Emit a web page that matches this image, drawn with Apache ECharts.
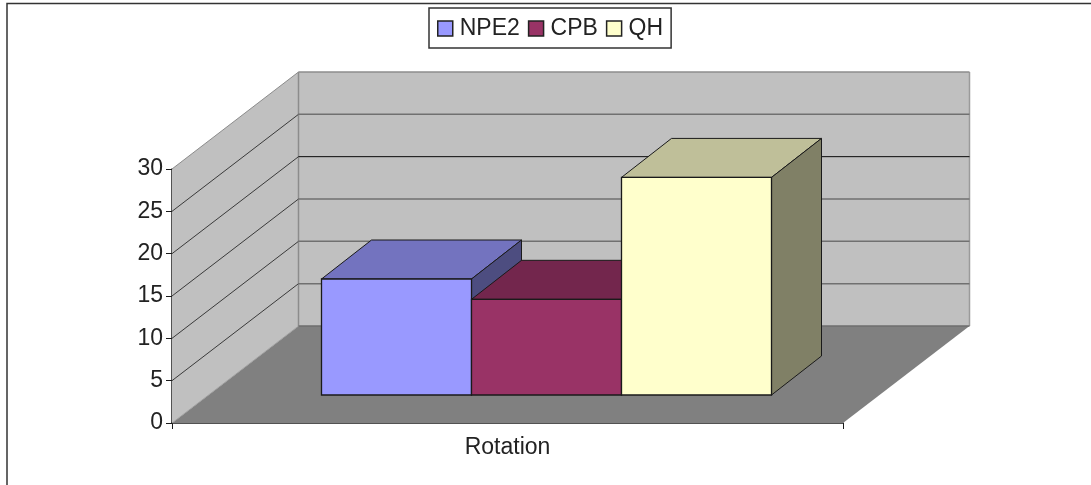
<!DOCTYPE html>
<html>
<head>
<meta charset="utf-8">
<style>html,body{margin:0;padding:0;background:#fff}#chart{width:1091px;height:485px}</style>
<script src="https://cdn.jsdelivr.net/npm/echarts@6/dist/echarts.min.js"></script>
</head>
<body>
<div id="chart"></div>
<script>
const categories = ['Rotation'];
const seriesNames = ['NPE2', 'CPB', 'QH'];
const npe2Values = [13.7];
const cpbValues = [11.3];
const qhValues = [25.7];
const yTicks = [0, 5, 10, 15, 20, 25, 30];

const frontColors = ['#9999FF', '#993366', '#FFFFCC'];
const topColors = ['#7373BF', '#73264D', '#BFBF99'];
const sideColors = ['#4D4D80', '#4D1A33', '#808066'];
const gridLineColors = ['#a0a0a0', '#3a3a3a', '#3a3a3a', '#3a3a3a', '#3a3a3a', '#3a3a3a', '#8c8c8c'];
const backLineColors = ['#6e6e6e', '#707070', '#707070', '#707070', '#0a0a0a', '#707070', '#8c8c8c'];

// Oblique projection: pixel shift of the back wall and of the bars.
const WALL_DX = 126.5, WALL_DY = -97;
const BAR_DX = 39, BAR_DY = -28;
const DEPTH_DX = 50, DEPTH_DY = -39;
const BAR_WIDTH = 150;
const FONT = '"Liberation Sans", Arial, sans-serif';

function poly(points, fill, stroke, width) {
  return {
    type: 'polygon',
    shape: { points },
    style: { fill, stroke: stroke || null, lineWidth: width || 0 }
  };
}
function line(a, b, stroke, width) {
  return {
    type: 'line',
    shape: { x1: a[0], y1: a[1], x2: b[0], y2: b[1] },
    style: { stroke, lineWidth: width || 1 }
  };
}

// Floor, back wall, side wall and their grid lines.
function renderRoom(params, api) {
  const c = params.coordSys;
  const x0 = c.x, x1 = c.x + c.width;
  const yAt = v => api.coord([0, v])[1];
  const yBase = yAt(0), yTop = yAt(yTicks[yTicks.length - 1]);
  const kids = [
    poly([[x0, yBase], [x0 + WALL_DX, yBase + WALL_DY], [x1 + WALL_DX, yBase + WALL_DY], [x1, yBase]], '#808080'),
    poly([[x0 + WALL_DX, yTop + WALL_DY], [x1 + WALL_DX, yTop + WALL_DY], [x1 + WALL_DX, yBase + WALL_DY], [x0 + WALL_DX, yBase + WALL_DY]], '#C0C0C0'),
    poly([[x0, yTop], [x0 + WALL_DX, yTop + WALL_DY], [x0 + WALL_DX, yBase + WALL_DY], [x0, yBase]], '#C0C0C0')
  ];
  kids.push(line([x0 + WALL_DX, yTop + WALL_DY], [x0 + WALL_DX, yBase + WALL_DY], '#8c8c8c', 1.5));
  kids.push(line([x1 + WALL_DX, yTop + WALL_DY], [x1 + WALL_DX, yBase + WALL_DY], '#9a9a9a', 1.5));
  yTicks.forEach((v, i) => {
    const y = yAt(v);
    kids.push(line([x0, y], [x0 + WALL_DX, y + WALL_DY], gridLineColors[i], 1));
    kids.push(line([x0 + WALL_DX, y + WALL_DY], [x1 + WALL_DX, y + WALL_DY], backLineColors[i], i === 4 ? 1 : 1.5));
  });
  return { type: 'group', children: kids };
}

// One oblique box per series, standing on the floor.
function renderBox(index) {
  return function (params, api) {
    const base = api.coord([api.value(0), 0]);
    const head = api.coord([api.value(0), api.value(1)]);
    const left = base[0] + BAR_DX + (index - 1.5) * BAR_WIDTH;
    const right = left + BAR_WIDTH;
    const bottom = base[1] + BAR_DY;
    const top = head[1] + BAR_DY;
    const edge = '#1a1a1a';
    return {
      type: 'group',
      children: [
        poly([[left, top], [left + DEPTH_DX, top + DEPTH_DY], [right + DEPTH_DX, top + DEPTH_DY], [right, top]], topColors[index], edge, 1),
        poly([[right, top], [right + DEPTH_DX, top + DEPTH_DY], [right + DEPTH_DX, bottom + DEPTH_DY], [right, bottom]], sideColors[index], edge, 1),
        poly([[left, top], [right, top], [right, bottom], [left, bottom]], frontColors[index], edge, 1.3)
      ]
    };
  };
}

const valueSets = [npe2Values, cpbValues, qhValues];

const chart = echarts.init(document.getElementById('chart'), null, { renderer: 'canvas' });
chart.setOption({
  animation: false,
  backgroundColor: '#ffffff',
  graphic: [{
    type: 'rect',
    shape: { x: 7, y: 3.5, width: 1100, height: 490 },
    style: { fill: null, stroke: '#333333', lineWidth: 1.5 },
    silent: true
  }],
  legend: {
    left: 429,
    top: 8,
    padding: [9, 8, 8, 8],
    itemWidth: 15,
    itemHeight: 15,
    itemGap: 8,
    borderColor: '#333333',
    borderWidth: 1.5,
    backgroundColor: '#ffffff',
    textStyle: { fontFamily: FONT, fontSize: 23, color: '#222222', padding: [0, 0, 0, 2] },
    data: seriesNames.map((name, i) => ({
      name,
      icon: 'rect',
      itemStyle: { color: frontColors[i], borderColor: '#222222', borderWidth: 1.5 }
    }))
  },
  grid: { left: 172, right: 248, top: 169, bottom: 62 },
  xAxis: {
    type: 'category',
    data: categories,
    boundaryGap: true,
    axisLine: { lineStyle: { color: '#1a1a1a', width: 1.5 } },
    axisTick: { show: true, length: 6, lineStyle: { color: '#1a1a1a', width: 1 } },
    axisLabel: { fontFamily: FONT, fontSize: 23, color: '#222222', margin: 13 }
  },
  yAxis: {
    type: 'value',
    min: 0,
    max: 30,
    interval: 5,
    axisLine: { show: true, lineStyle: { color: '#1a1a1a', width: 1.5 } },
    axisTick: { show: true, length: 6, lineStyle: { color: '#1a1a1a', width: 1 } },
    axisLabel: { fontFamily: FONT, fontSize: 23, color: '#222222', margin: 9, padding: [2, 0, 0, 0] },
    splitLine: { show: false }
  },
  series: [
    {
      type: 'custom',
      name: 'room',
      silent: true,
      clip: false,
      z: 1,
      renderItem: renderRoom,
      data: [[0, 0]]
    }
  ].concat(seriesNames.map((name, i) => ({
    type: 'custom',
    name,
    clip: false,
    z: 3 + i,
    itemStyle: { color: frontColors[i] },
    renderItem: renderBox(i),
    encode: { x: 0, y: 1 },
    data: valueSets[i].map((v, k) => [k, v])
  })))
});
</script>
</body>
</html>
